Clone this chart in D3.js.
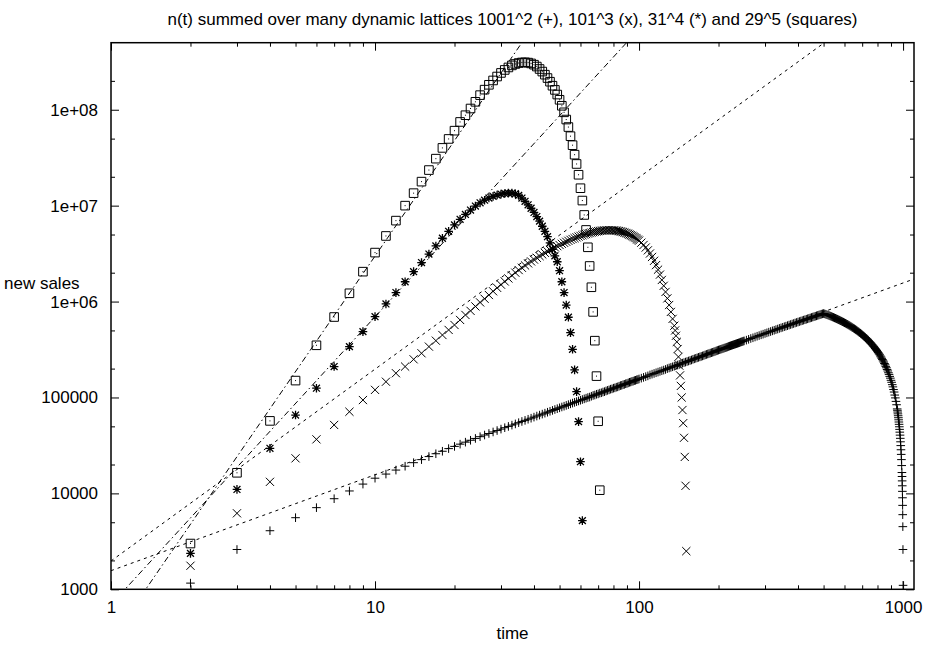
<!DOCTYPE html>
<html><head><meta charset="utf-8">
<script src="https://cdn.jsdelivr.net/npm/d3@7"></script>
<style>
body{margin:0;background:#fff;}
svg{display:block;}
text{font-family:"Liberation Sans",Arial,Helvetica,sans-serif;font-size:17px;fill:#000;}
</style></head><body>
<svg id="chart" width="934" height="647"></svg>
<script>
// ---------- text ----------
const titleText = "n(t) summed over many dynamic lattices 1001^2 (+), 101^3 (x), 31^4 (*) and 29^5 (squares)";
const xLabelText = "time";
const yLabelText = "new sales";

// ---------- axes ----------
const xDomain = [1, 1100];
const yDomain = [1000, 5e8];
const xMajorTicks = [1, 10, 100, 1000];
const xMajorLabels = ["1", "10", "100", "1000"];
const xMinorTicks = [2,3,4,5,6,7,8,9,20,30,40,50,60,70,80,90,200,300,400,500,600,700,800,900];
const yMajorTicks = [1e3, 1e4, 1e5, 1e6, 1e7, 1e8];
const yMajorLabels = ["1000", "10000", "100000", "1e+06", "1e+07", "1e+08"];
const yMinorTicks = [2e3,5e3,2e4,5e4,2e5,5e5,2e6,5e6,2e7,5e7,2e8];

// ---------- series: 1001^2 (+) ----------
const plusT = [2,3,4,5,6,7,8,9,10,11,12,13,14,15,16,17,18,19,20,21,22,23,24,25,26,27,28,29,30,
 31,32,33,34,35,36,37,38,39,40,41,42,43,44,45,46,47,48,49,50,51,52,53,54,55,56,57,58,59,60,
 61,62,63,64,65,66,67,68,69,70,71,72,73,74,75,76,77,78,79,80,81,82,83,84,85,86,87,88,89,90,
 91,92,93,94,95,96,97,98,99,100,
 102,104,106,108,110,112,114,116,118,120,122,124,126,128,130,132,134,136,138,140,
 142,144,146,148,150,152,154,156,158,160,162,164,166,168,170,172,174,176,178,180,
 182,184,186,188,190,192,194,196,198,200,202,204,206,208,210,212,214,216,218,220,
 222,224,226,228,230,232,234,236,238,240,242,244,246,248,250,
 255,260,265,270,275,280,285,290,295,300,
 305,310,315,320,325,330,335,340,345,350,355,360,365,370,375,380,385,390,395,400,
 405,410,415,420,425,430,435,440,445,450,455,460,465,470,475,480,485,490,495,500,
 505,510,515,520,525,530,535,540,545,550,555,560,565,570,575,580,585,590,595,600,
 605,610,615,620,625,630,635,640,645,650,655,660,665,670,675,680,685,690,695,700,
 705,710,715,720,725,730,735,740,745,750,755,760,765,770,775,780,785,790,795,800,
 805,810,815,820,825,830,835,840,845,850,855,860,865,870,875,880,885,890,895,900,
 905,910,915,920,925,930,935,940,945,950,952,954,956,958,960,962,964,966,968,970,
 972,974,976,978,980,982,984,986,988,990,991,992,993,994,995,996,997,998,999,1000];
const plusN = [1160,2600,4080,5580,7100,8800,10600,12500,14400,15900,17500,19200,20900,22500,24200,25900,27500,29300,30900,32600,34200,35800,37400,39000,40600,42100,43700,45200,46800,
 48400,49900,51500,53000,54600,56200,57700,59300,60800,62400,64000,65500,67100,68600,70200,71800,73300,74900,76400,78000,79600,81100,82700,84200,85800,87400,88900,90500,92000,93600,
 95200,96700,98300,99800,101000,103000,105000,106000,108000,109000,111000,112000,114000,115000,117000,118600,120000,122000,123000,125000,126000,128000,129000,131000,133000,134000,136000,137000,139000,140000,
 142000,144000,145000,147000,148000,150000,151000,153000,154000,156000,
 159000,162000,165000,168000,172000,175000,178000,181000,184000,187000,190000,193000,196000,200000,203000,206000,209000,212000,215000,218000,
 221000,224000,228000,231000,234000,237000,240000,243000,246000,250000,253000,256000,259000,262000,265000,268000,271000,274000,278000,281000,
 284000,287000,290000,293000,296000,299000,302000,306000,309000,312000,315000,318000,321000,324000,327000,330000,333000,336000,340000,343000,
 346000,349000,352000,355000,358000,361000,364000,367000,370000,373000,377000,380000,383000,386000,389000,
 396000,404000,412000,419000,427000,435000,442000,450000,457000,465000,
 472000,480000,487000,495000,502000,510000,517000,525000,532000,539000,547000,554000,561000,569000,576000,583000,590000,598000,605000,612000,
 619000,626000,633000,640000,647000,654000,661000,668000,675000,682000,689000,696000,703000,710000,717000,724000,731000,738000,745000,750000,
 744000,736000,729000,721000,714000,706000,699000,691000,684000,676000,669000,661000,654000,646000,639000,631000,624000,616000,609000,601000,
 594000,586000,579000,571000,564000,556000,549000,541000,534000,526000,519000,511000,504000,496000,489000,481000,474000,466000,459000,451000,
 444000,436000,429000,421000,414000,406000,399000,391000,384000,376000,369000,361000,354000,346000,339000,331000,324000,316000,309000,301000,
 294000,286000,279000,271000,264000,256000,249000,241000,234000,226000,219000,211000,204000,196000,189000,181000,174000,166000,159000,151000,
 144000,136000,129000,121000,114000,106000,99000,91000,84000,76000,73500,70500,67500,64500,61500,58500,55500,52500,49500,46500,
 43500,40500,37500,34500,31500,28500,25500,22500,19500,16500,15000,13500,12000,10500,9000,7500,6000,4500,2600,1100];

// ---------- series: 101^3 (x) ----------
const crossT = [2,3,4,5,6,7,8,9,10,11,12,13,14,15,16,17,18,19,20,21,22,23,24,25,26,27,28,29,30,31,32,33,34,35,36,37,38,39,40,
 41,42,43,44,45,46,47,48,49,50,51,52,53,54,55,56,57,58,59,60,61,62,63,64,65,66,67,68,69,70,
 71,72,73,74,75,76,77,78,79,80,81,82,83,84,85,86,87,88,89,90,91,92,93,94,95,96,97,98,99,100,
 102,104,106,108,110,112,114,116,118,120,122,124,126,128,130,132,134,
 136,137,138,139,140,141,142,143,144,145,146,147,148,149,150,151];
const crossN = [1760,6200,13200,23200,36600,51700,71000,94000,120000,146000,179000,210000,250000,289000,339000,391000,448000,506000,570000,643000,725000,800000,890000,980000,1070000,1170000,1280000,1390000,1500000,1620000,1740000,1870000,2000000,2130000,2250000,2380000,2500000,2620000,2740000,
 2860000,2980000,3100000,3220000,3340000,3450000,3560000,3670000,3780000,3890000,4000000,4100000,4200000,4300000,4400000,4490000,4580000,4670000,4760000,4840000,4920000,4990000,5060000,5120000,5180000,5240000,5290000,5340000,5380000,5420000,
 5450000,5480000,5500000,5520000,5530000,5540000,5550000,5550000,5540000,5530000,5510000,5490000,5460000,5430000,5390000,5350000,5300000,5250000,5190000,5130000,5070000,5000000,4930000,4850000,4770000,4690000,4600000,4510000,4420000,4320000,
 4110000,3890000,3660000,3420000,3170000,2920000,2660000,2400000,2150000,1910000,1680000,1460000,1260000,1080000,920000,780000,660000,
 560000,500000,440000,380000,320000,265000,215000,170000,132000,100000,74000,54000,38000,24000,12000,2500];

// ---------- series: 31^4 (*) ----------
const starT = [2,3,4,5,6,7,8,9,10,11,12,13,14,15,16,17,18,19,20,21,22,23,24,25,26,27,28,29,30,31,
 32,33,34,35,36,37,38,39,40,41,42,43,44,45,46,47,48,49,50,51,52,53,54,55,56,57,58,59,60,61];
const starN = [2370,11000,29500,65600,125000,210000,339000,486000,696000,944000,1240000,1610000,2050000,2550000,3130000,3800000,4570000,5400000,6300000,7200000,8100000,9000000,9900000,10700000,11400000,12000000,12500000,12900000,13200000,13400000,
 13500000,13500000,13300000,12800000,12000000,11100000,10200000,9400000,8500000,7700000,6900000,6100000,5400000,4750000,4100000,3500000,3000000,2600000,2100000,1610000,1240000,920000,686000,474000,318000,194000,115000,56000,21400,5200];

// ---------- series: 29^5 (squares) ----------
const squareT = [2,3,4,5,6,7,8,9,10,11,12,13,14,15,16,17,18,19,20,21,22,23,24,25,26,27,28,29,30,31,32,33,34,35,36,
 37,38,39,40,41,42,43,44,45,46,47,48,49,50,51,52,53,54,55,56,57,58,59,60,61,62,63,64,65,66,67,68,69,70,71];
const squareN = [3000,16400,57000,150000,350000,690000,1220000,2050000,3240000,4830000,6980000,10000000,13500000,17800000,23500000,30900000,40000000,49600000,60500000,74600000,87700000,103000000,121000000,142000000,162000000,182000000,202000000,222000000,242000000,260000000,276000000,290000000,300000000,307000000,311000000,
 312000000,310000000,304000000,295000000,282000000,266000000,250000000,232000000,214000000,196000000,178000000,161000000,144000000,127000000,110000000,94000000,79000000,66000000,53000000,42700000,34000000,27200000,21000000,15200000,11300000,8000000,5580000,3680000,2350000,1410000,780000,391000,167000,56500,10800];

// ---------- power-law fits n = c * t^k ----------
const fitCoef = [1563, 1973, 693, 298];
const fitExp = [1, 2, 3, 4];
const fitStyle = ["short", "short", "dashdot", "dashdot"];

// ---------- drawing ----------
const W = 934, H = 647;
const M = {left: 111, right: 20, top: 42.7, bottom: 57.7};
const svg = d3.select("#chart");
const x = d3.scaleLog().domain(xDomain).range([M.left, W - M.right]);
const y = d3.scaleLog().domain(yDomain).range([H - M.bottom, M.top]);
const [x0, x1] = x.range(), [y0, y1] = y.range();

svg.append("defs").append("clipPath").attr("id", "plotclip")
  .append("rect").attr("x", x0).attr("y", y1).attr("width", x1 - x0).attr("height", y0 - y1);

// title & labels
svg.append("text").attr("x", (x0 + x1) / 2).attr("y", 25).attr("text-anchor", "middle").text(titleText);
svg.append("text").attr("x", (x0 + x1) / 2).attr("y", 639).attr("text-anchor", "middle").text(xLabelText);
svg.append("text").attr("x", 4).attr("y", 289).attr("text-anchor", "start").text(yLabelText);

// axes
function styleAxis(g) { g.select(".domain").remove(); g.selectAll("line").attr("stroke", "#000").attr("stroke-width", 1); g.selectAll("text").attr("font-size", null).attr("font-family", null); }
const xl = d => xMajorLabels[xMajorTicks.indexOf(d)];
const yl = d => yMajorLabels[yMajorTicks.indexOf(d)];
svg.append("g").attr("transform", `translate(0,${y0})`)
  .call(d3.axisBottom(x).tickValues(xMajorTicks).tickFormat(xl).tickSize(-8).tickSizeOuter(0).tickPadding(12)).call(styleAxis);
svg.append("g").attr("transform", `translate(0,${y0})`)
  .call(d3.axisBottom(x).tickValues(xMinorTicks).tickFormat("").tickSize(-4).tickSizeOuter(0)).call(styleAxis);
svg.append("g").attr("transform", `translate(0,${y1})`)
  .call(d3.axisTop(x).tickValues(xMajorTicks).tickFormat("").tickSize(-8).tickSizeOuter(0)).call(styleAxis);
svg.append("g").attr("transform", `translate(0,${y1})`)
  .call(d3.axisTop(x).tickValues(xMinorTicks).tickFormat("").tickSize(-4).tickSizeOuter(0)).call(styleAxis);
svg.append("g").attr("transform", `translate(${x0},0)`)
  .call(d3.axisLeft(y).tickValues(yMajorTicks).tickFormat(yl).tickSize(-8).tickSizeOuter(0).tickPadding(13)).call(styleAxis);
svg.append("g").attr("transform", `translate(${x0},0)`)
  .call(d3.axisLeft(y).tickValues(yMinorTicks).tickFormat("").tickSize(-4).tickSizeOuter(0)).call(styleAxis);
svg.append("g").attr("transform", `translate(${x1},0)`)
  .call(d3.axisRight(y).tickValues(yMajorTicks).tickFormat("").tickSize(-8).tickSizeOuter(0)).call(styleAxis);
svg.append("g").attr("transform", `translate(${x1},0)`)
  .call(d3.axisRight(y).tickValues(yMinorTicks).tickFormat("").tickSize(-4).tickSizeOuter(0)).call(styleAxis);

const plot = svg.append("g").attr("clip-path", "url(#plotclip)");

// fit lines
const dash = {short: "3,4", dashdot: "6,3,1.5,3"};
fitCoef.forEach((c, i) => {
  const pts = xDomain.map(t => [t, c * Math.pow(t, fitExp[i])]);
  plot.append("path")
    .attr("d", d3.line().x(d => x(d[0])).y(d => y(d[1]))(pts))
    .attr("fill", "none").attr("stroke", "#000").attr("stroke-width", 1)
    .attr("stroke-dasharray", dash[fitStyle[i]]);
});

// markers
const r = 4.3;
const c = r * 0.95, s = r * 0.8;
const shapes = {
  plus: `M${-r},0H${r}M0,${-r}V${r}`,
  cross: `M${-c},${-c}L${c},${c}M${-c},${c}L${c},${-c}`,
  star: `M${-r},0H${r}M0,${-r}V${r}M${-s},${-s}L${s},${s}M${-s},${s}L${s},${-s}`,
  square: `M${-r},${-r}H${r}V${r}H${-r}ZM-0.5,0H0.5`
};
const series = [
  {t: plusT, n: plusN, shape: "plus", w: 1},
  {t: crossT, n: crossN, shape: "cross", w: 1},
  {t: starT, n: starN, shape: "star", w: 1.3},
  {t: squareT, n: squareN, shape: "square", w: 1}
];
series.forEach(sr => {
  const pts = sr.t.map((t, i) => ({t, n: sr.n[i]}));
  plot.append("g").selectAll("path").data(pts).join("path")
    .attr("transform", d => `translate(${x(d.t)},${y(d.n)})`)
    .attr("d", shapes[sr.shape])
    .attr("fill", "none").attr("stroke", "#000").attr("stroke-width", sr.w);
});

// frame
svg.append("rect").attr("x", x0).attr("y", y1).attr("width", x1 - x0).attr("height", y0 - y1)
  .attr("fill", "none").attr("stroke", "#000").attr("stroke-width", 1.5);
</script>
</body></html>
